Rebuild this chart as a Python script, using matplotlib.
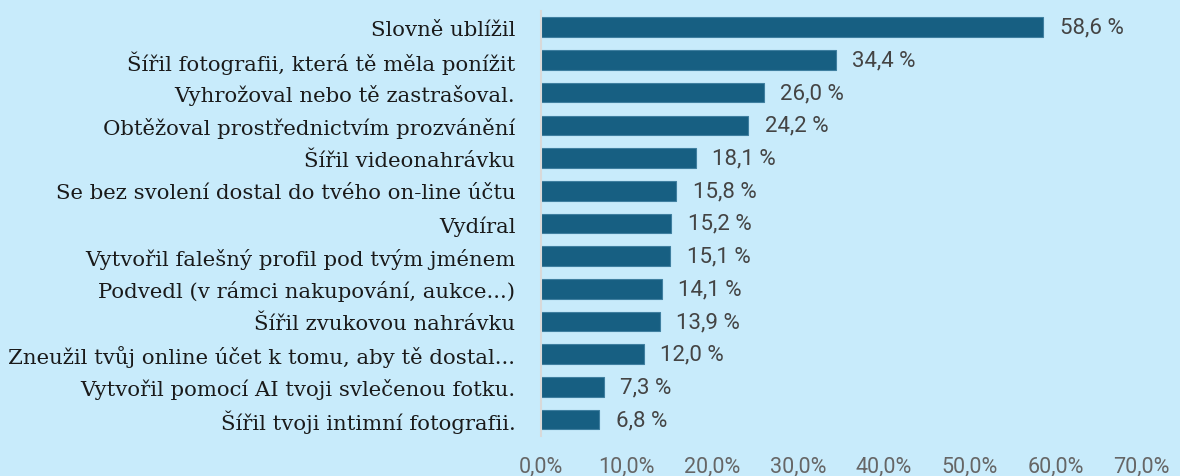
import matplotlib.pyplot as plt
from matplotlib.ticker import FuncFormatter

# Data
categories = [
    "Slovně ublížil",
    "Šířil fotografii, která tě měla ponížit",
    "Vyhrožoval nebo tě zastrašoval.",
    "Obtěžoval prostřednictvím prozvánění",
    "Šířil videonahrávku",
    "Se bez svolení dostal do tvého on-line účtu",
    "Vydíral",
    "Vytvořil falešný profil pod tvým jménem",
    "Podvedl (v rámci nakupování, aukce...)",
    "Šířil zvukovou nahrávku",
    "Zneužil tvůj online účet k tomu, aby tě dostal...",
    "Vytvořil pomocí AI tvoji svlečenou fotku.",
    "Šířil tvoji intimní fotografii.",
]
values = [58.6, 34.4, 26.0, 24.2, 18.1, 15.8, 15.2, 15.1, 14.1, 13.9, 12.0, 7.3, 6.8]
ticks = [0, 10, 20, 30, 40, 50, 60, 70]

bg = "#c8ebfb"
bar_color = "#175f82"

fig = plt.figure(figsize=(11.8, 4.77), dpi=100, facecolor=bg)
ax = fig.add_axes([0.4585, 0.084, 0.5085, 0.891])
ax.set_facecolor(bg)

pos = list(range(len(categories)))
ax.barh(pos, values, height=0.6, color=bar_color, edgecolor="#3f7fa0", linewidth=0.8)

for p, v in zip(pos, values):
    label = f"{v:.1f}".replace(".", ",") + " %"
    ax.text(v + 1.9, p, label, va="center", ha="left", fontsize=16,
            family="Roboto", color="#444444")

ax.set_yticks(pos)
ax.set_yticklabels(categories, family="DejaVu Serif", fontsize=15.3, color="#1a1a1a")
ax.set_ylim(12.5, -0.5)
ax.set_xlim(0, 70)
ax.set_xticks(ticks)
ax.xaxis.set_major_formatter(FuncFormatter(lambda x, _: f"{x:.1f}".replace(".", ",") + "%"))
for t in ax.get_xticklabels():
    t.set_family("Roboto")
    t.set_fontsize(15.5)
    t.set_color("#666666")

ax.tick_params(axis="both", length=0)
ax.tick_params(axis="x", pad=14)
ax.tick_params(axis="y", pad=18.5)

for side in ["top", "right", "bottom"]:
    ax.spines[side].set_visible(False)
ax.spines["left"].set_color("#d9d9d9")
ax.spines["left"].set_linewidth(1.5)

fig.savefig("out.png", dpi=100, facecolor=bg)
